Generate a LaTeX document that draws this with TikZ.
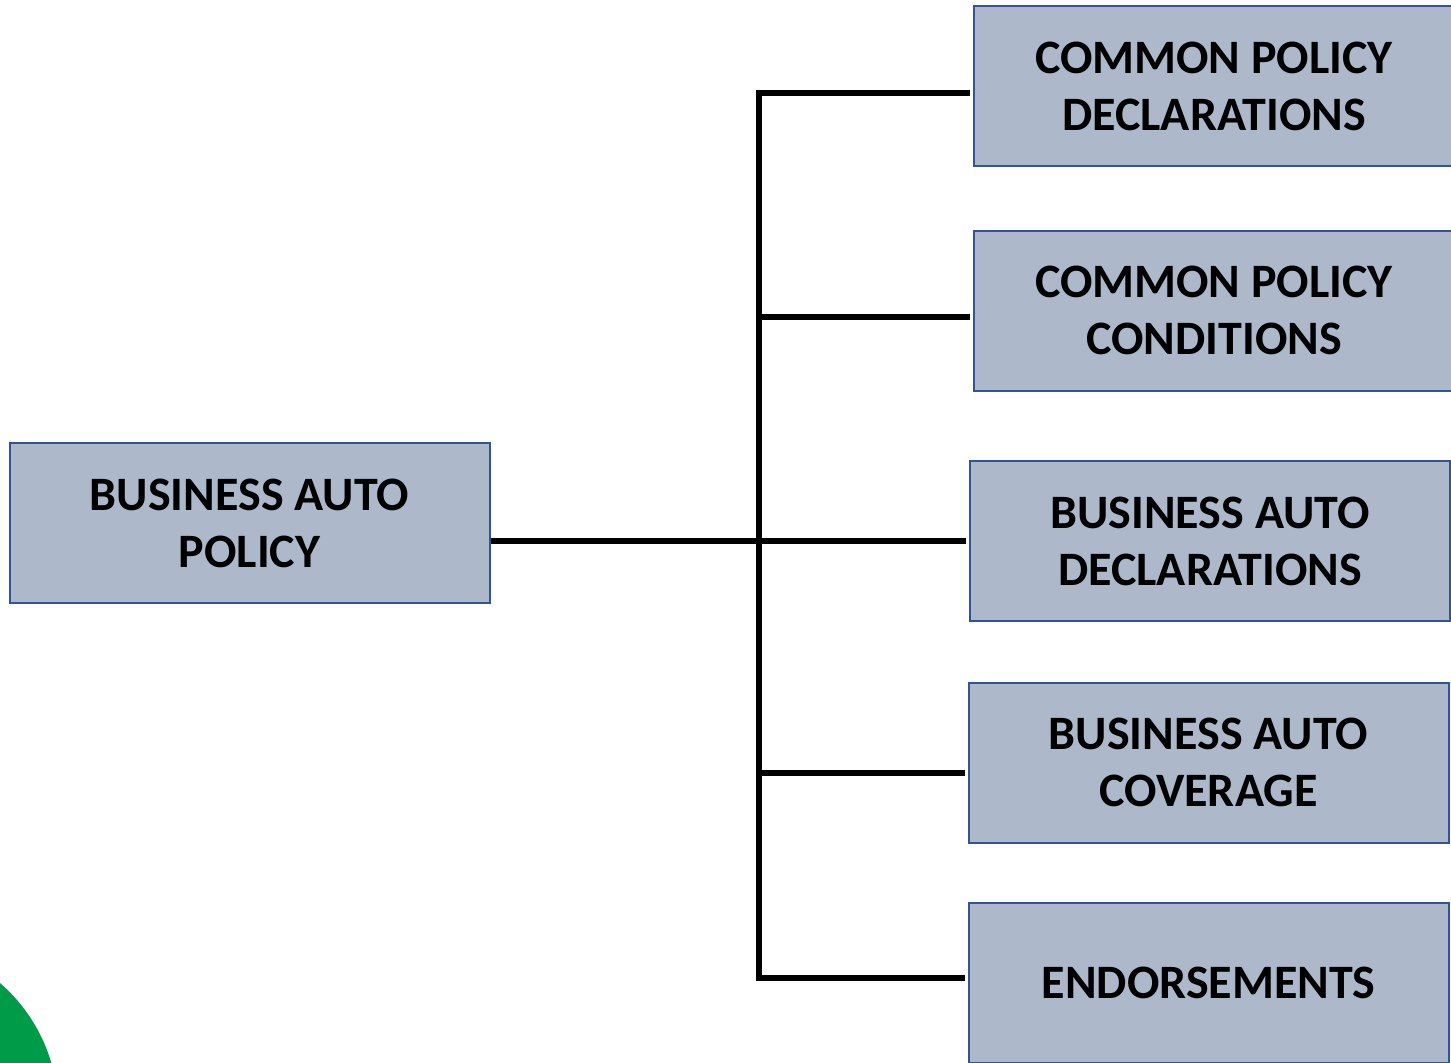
\documentclass[tikz,border=0pt]{standalone}
\usepackage{fontspec}
\setmainfont{Carlito}
\definecolor{boxfill}{RGB}{173,185,202}
\definecolor{boxline}{RGB}{47,85,151}
\definecolor{dotgreen}{RGB}{0,155,72}

\begin{document}
\begin{tikzpicture}[x=0.5pt,y=-0.5pt,
	part/.style={rectangle,draw=boxline,fill=boxfill,line width=1pt,
		minimum width=240pt,minimum height=80pt,inner sep=0pt,align=center,
		font=\fontsize{24}{28.5}\selectfont\bfseries},
	link/.style={line width=3pt,shorten >=1.5pt}]
	\useasboundingbox (0,0) rectangle (1451,1062);
	\clip (0,0) rectangle (1451,1062);

	% green corner mark
	\fill[dotgreen] (-110,1110) circle[radius=168];

	\node[part] at (249.5,523) (root) {BUSINESS AUTO\\POLICY};
	\node[part] at (1214,86) (cpdecl) {COMMON POLICY\\DECLARATIONS};
	\node[part] at (1214,310.5) (cpcond) {COMMON POLICY\\CONDITIONS};
	\node[part] at (1210,541) (badecl) {BUSINESS AUTO\\DECLARATIONS};
	\node[part] at (1208.5,762.5) (bacov) {BUSINESS AUTO\\COVERAGE};
	\node[part] at (1208.5,983) (endors) {ENDORSEMENTS};

	\coordinate (T1) at (759,93);
	\coordinate (T2) at (756,317);
	\coordinate (T4) at (756,773);
	\coordinate (T5) at (756,978);

	\draw[link] (T1) -- (T1 -| cpdecl.west);
	\draw[link] (T2) -- (T2 -| cpcond.west);
	\draw[link] (root.east |- badecl.west) -- (badecl.west);
	\draw[link] (T4) -- (T4 -| bacov.west);
	\draw[link] (T5) -- (T5 -| endors.west);
	\draw[line width=3pt,line cap=rect] (T1) -- (T1 |- T5);
\end{tikzpicture}
\end{document}
